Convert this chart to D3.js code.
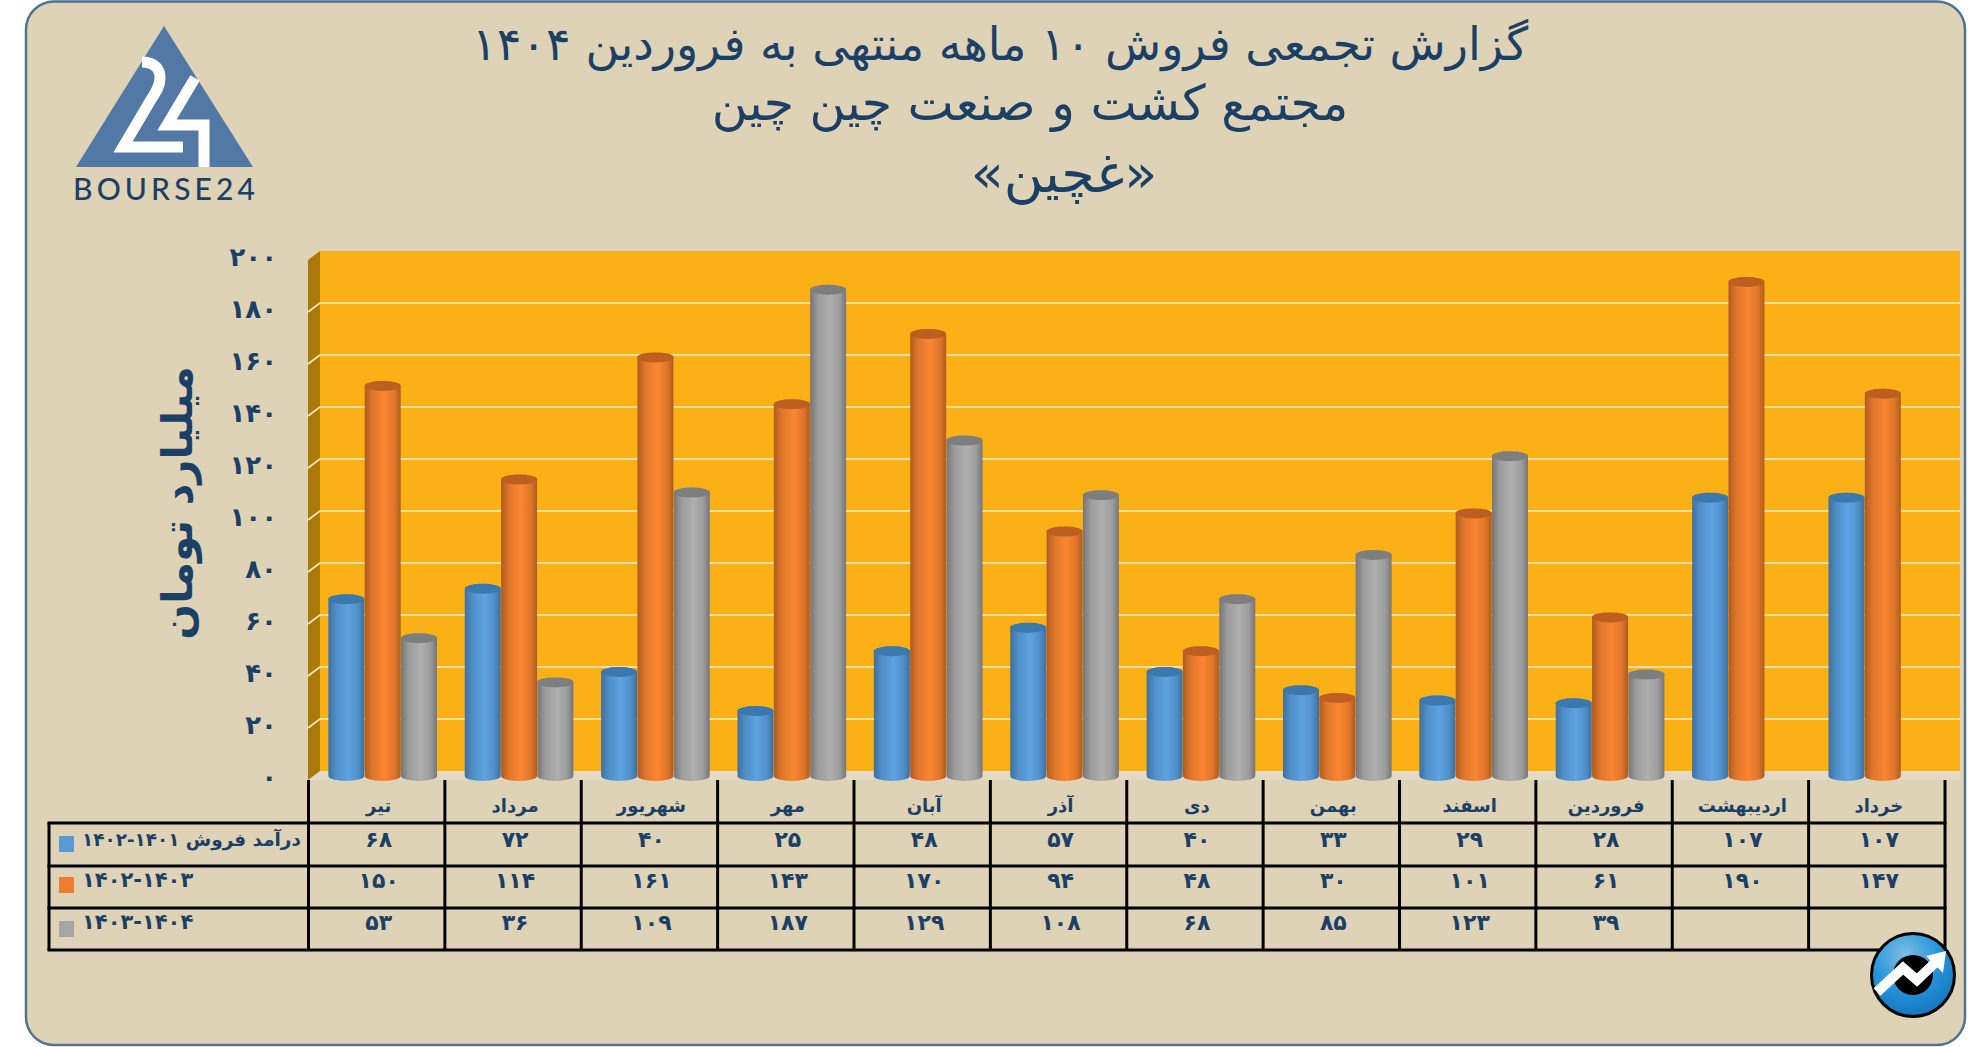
<!DOCTYPE html>
<html>
<head>
<meta charset="utf-8">
<script src="https://cdn.jsdelivr.net/npm/d3@7"></script>
<style>
html, body { margin: 0; background: #fff; }
text { font-family: "DejaVu Sans", sans-serif; fill: #1c3f66; }
</style>
</head>
<body>
<div id="chart"></div>
<script>
var categories = ["تیر", "مرداد", "شهریور", "مهر", "آبان", "آذر", "دی", "بهمن", "اسفند", "فروردین", "اردیبهشت", "خرداد"];
var seriesNames = ["درآمد فروش ۱۴۰۱-۱۴۰۲", "۱۴۰۲-۱۴۰۳", "۱۴۰۳-۱۴۰۴"];
var sales1401 = [68, 72, 40, 25, 48, 57, 40, 33, 29, 28, 107, 107];
var sales1402 = [150, 114, 161, 143, 170, 94, 48, 30, 101, 61, 190, 147];
var sales1403 = [53, 36, 109, 187, 129, 108, 68, 85, 123, 39, null, null];
var yTicks = [0, 20, 40, 60, 80, 100, 120, 140, 160, 180, 200];
var titleLines = ["گزارش تجمعی فروش ۱۰ ماهه منتهی به فروردین ۱۴۰۴", "مجتمع کشت و صنعت چین چین", "«غچین»"];
var yTitle = "میلیارد تومان";

var allSeries = [sales1401, sales1402, sales1403];

// per series colours: edge, mid, light, cap
var palette = [
    {edge: "#3f709c", mid: "#4f8fc9", light: "#5fa3e2", cap: "#3a78ae", key: "#5b9bd5"},
    {edge: "#ad5c20", mid: "#e0762a", light: "#fa8632", cap: "#bc5f20", key: "#ed7d31"},
    {edge: "#767676", mid: "#9c9c9c", light: "#afafaf", cap: "#7e7e7e", key: "#a5a5a5"}
];

var width = 1986, height = 1047;
var depth = {x: 12, y: 9};
var tableLeft = 49, tableRight = 1945;
var rowLines = [823, 866, 908, 950];

function fa(v) {
    return String(v).replace(/\d/g, function(d){ return "۰۱۲۳۴۵۶۷۸۹"[d]; });
}

var svg = d3.select("#chart").append("svg")
    .attr("width", width)
    .attr("height", height)
    .style("display", "block");

var defs = svg.append("defs");

palette.forEach(function(p, i) {
    var g = defs.append("linearGradient").attr("id", "cyl" + i);
    [[0, p.edge], [.22, p.mid], [.55, p.light], [.82, p.mid], [1, p.edge]].forEach(function(s) {
        g.append("stop").attr("offset", s[0]).attr("stop-color", s[1]);
    });
});

var ball = defs.append("radialGradient").attr("id", "ball")
    .attr("cx", .4).attr("cy", .25).attr("r", .85);
ball.append("stop").attr("offset", 0).attr("stop-color", "#7dbde3");
ball.append("stop").attr("offset", .45).attr("stop-color", "#2a97dc");
ball.append("stop").attr("offset", 1).attr("stop-color", "#0f6fb8");

// panel
svg.append("rect")
    .attr("x", 26).attr("y", 1.5)
    .attr("width", 1939).attr("height", 1043.5)
    .attr("rx", 28)
    .attr("fill", "#ded3b7")
    .attr("stroke", "#4f7391")
    .attr("stroke-width", 2.5);

// scales
var x = d3.scaleBand().domain(categories).range([308.5, tableRight]);
var xBar = d3.scaleBand().domain([0, 1, 2]).range([-54.5, 54.5]);
var y = d3.scaleLinear().domain([0, 200]).range([771, 251]);

// walls
var wallLeft = x.range()[0] + depth.x - .5, wallRight = 1960;

svg.append("polygon")
    .attr("points", [[wallLeft, y(0)], [wallRight, y(0)], [wallRight, y(0) + depth.y], [wallLeft - depth.x, y(0) + depth.y]].join(" "))
    .attr("fill", "#e3dac6");

svg.append("rect")
    .attr("x", wallLeft).attr("y", y(200))
    .attr("width", wallRight - wallLeft).attr("height", y(0) - y(200))
    .attr("fill", "#fbb116");

svg.append("polygon")
    .attr("points", [[wallLeft, y(200)], [wallLeft, y(0)], [wallLeft - depth.x, y(0) + depth.y], [wallLeft - depth.x, y(200) + depth.y]].join(" "))
    .attr("fill", "#a97a0b");

var gridTicks = yTicks.filter(function(d){ return d > 0 && d < 200; });

svg.selectAll(".grid")
    .data(gridTicks)
    .enter().append("path")
    .attr("class", "grid")
    .attr("d", function(d) {
        return "M" + wallRight + "," + y(d) + "L" + wallLeft + "," + y(d) + "l" + (-depth.x) + "," + depth.y;
    })
    .attr("fill", "none")
    .attr("stroke", "#f7dfae")
    .attr("stroke-width", 2);

// cylinders
var rx = 18, ry = 5, barShift = 5, groupShift = 6;

allSeries.forEach(function(values, s) {
    var bars = svg.append("g").selectAll("g")
        .data(values.map(function(v, i){ return {v: v, cat: categories[i]}; }).filter(function(d){ return d.v !== null; }))
        .enter().append("g")
        .attr("transform", function(d) {
            return "translate(" + (x(d.cat) + x.bandwidth() / 2 + groupShift + xBar(s) + xBar.bandwidth() / 2) + ",0)";
        });

    bars.append("path")
        .attr("d", function(d) {
            var top = y(d.v) + barShift, base = y(0) + barShift;
            return "M" + (-rx) + "," + top + "L" + (-rx) + "," + base +
                "A" + rx + "," + ry + " 0 0 0 " + rx + "," + base +
                "L" + rx + "," + top +
                "A" + rx + "," + ry + " 0 0 0 " + (-rx) + "," + top + "Z";
        })
        .attr("fill", "url(#cyl" + s + ")");

    bars.append("ellipse")
        .attr("cy", function(d){ return y(d.v) + barShift; })
        .attr("rx", rx).attr("ry", ry)
        .attr("fill", palette[s].cap);
});

// y axis labels
var yAxis = d3.axisLeft(y).tickValues(yTicks).tickSize(0).tickPadding(0).tickFormat(fa);

var yG = svg.append("g")
    .attr("transform", "translate(277,6)")
    .call(yAxis);
yG.select(".domain").remove();
yG.selectAll("text")
    .attr("font-family", null)
    .style("font-size", "26px")
    .style("font-weight", "bold");

svg.append("text")
    .attr("transform", "translate(192,503) rotate(-90)")
    .attr("text-anchor", "middle")
    .style("direction", "rtl")
    .style("font-size", "42px")
    .style("font-weight", "bold")
    .text(yTitle);

// titles
var titleX = [1000, 1030, 1064], titleY = [60, 120, 192], titleSize = [46, 49, 54];

svg.selectAll(".title")
    .data(titleLines)
    .enter().append("text")
    .attr("class", "title")
    .attr("x", function(d, i){ return titleX[i]; })
    .attr("y", function(d, i){ return titleY[i]; })
    .attr("text-anchor", "middle")
    .style("direction", "rtl")
    .style("font-size", function(d, i){ return titleSize[i] + "px"; })
    .text(function(d){ return d; });

// data table
var lines = svg.append("g").attr("stroke", "#000").attr("stroke-width", 3);

rowLines.forEach(function(ry0) {
    lines.append("line")
        .attr("x1", tableLeft - 1.5).attr("x2", tableRight + 1.5)
        .attr("y1", ry0).attr("y2", ry0);
});

lines.append("line")
    .attr("x1", tableLeft).attr("x2", tableLeft)
    .attr("y1", rowLines[0]).attr("y2", rowLines[3]);

categories.concat([null]).forEach(function(c) {
    var vx = c === null ? tableRight : x(c);
    lines.append("line")
        .attr("x1", vx).attr("x2", vx)
        .attr("y1", 780).attr("y2", rowLines[3]);
});

svg.selectAll(".cat")
    .data(categories)
    .enter().append("text")
    .attr("class", "cat")
    .attr("x", function(d){ return x(d) + x.bandwidth() / 2 + 2; })
    .attr("y", 805)
    .attr("text-anchor", "middle")
    .attr("dominant-baseline", "central")
    .style("direction", "rtl")
    .style("font-size", "18px")
    .style("font-weight", "bold")
    .text(function(d){ return d; });

var rowTextY = [839, 880, 922];
var keyY = [836, 877, 921];
var nameSize = [18.4, 21, 21];

allSeries.forEach(function(values, s) {
    svg.selectAll(".val" + s)
        .data(values)
        .enter().append("text")
        .attr("class", "val" + s)
        .attr("x", function(d, i){ return x(categories[i]) + x.bandwidth() / 2 + 2; })
        .attr("y", rowTextY[s])
        .attr("text-anchor", "middle")
        .attr("dominant-baseline", "central")
        .style("font-size", "22px")
        .style("font-weight", "bold")
        .text(function(d){ return d === null ? "" : fa(d); });

    svg.append("rect")
        .attr("x", 59).attr("y", keyY[s])
        .attr("width", 15).attr("height", 16)
        .attr("fill", palette[s].key);

    svg.append("text")
        .attr("x", 82)
        .attr("y", rowTextY[s])
        .attr("text-anchor", "end")
        .attr("dominant-baseline", "central")
        .style("direction", "rtl")
        .style("font-size", nameSize[s] + "px")
        .style("font-weight", "bold")
        .text(seriesNames[s]);
});

// bourse24 logo
var logo = svg.append("g");

logo.append("polygon")
    .attr("points", "164,26 76,167 253,167")
    .attr("fill", "#5279a6");

logo.append("path")
    .attr("d", "M142,62 C156,62 160,70 160,78 C160,86 156,92 152,98 L123,147 L183,147 M195,78 L167,125 L204,125 L204,167")
    .attr("fill", "none")
    .attr("stroke", "#fff")
    .attr("stroke-width", 11);

logo.append("text")
    .attr("x", 73)
    .attr("y", 200)
    .attr("textLength", 182)
    .attr("lengthAdjust", "spacing")
    .style("font-family", "Lato, sans-serif")
    .style("font-size", "30px")
    .style("font-weight", 500)
    .text("BOURSE24");

// corner badge
var badge = svg.append("g").attr("transform", "translate(1913,975)");

badge.append("circle")
    .attr("r", 41.5)
    .attr("fill", "url(#ball)")
    .attr("stroke", "#000")
    .attr("stroke-width", 3);

badge.append("circle").attr("r", 20).attr("fill", "#000");

badge.append("path")
    .attr("d", "M-36,17 L-10,-7 L4,5 L25,-15")
    .attr("fill", "none")
    .attr("stroke", "#fff")
    .attr("stroke-width", 10);

badge.append("polygon")
    .attr("points", "33,-24 13,-19 30,-2")
    .attr("fill", "#fff");
</script>
</body>
</html>
